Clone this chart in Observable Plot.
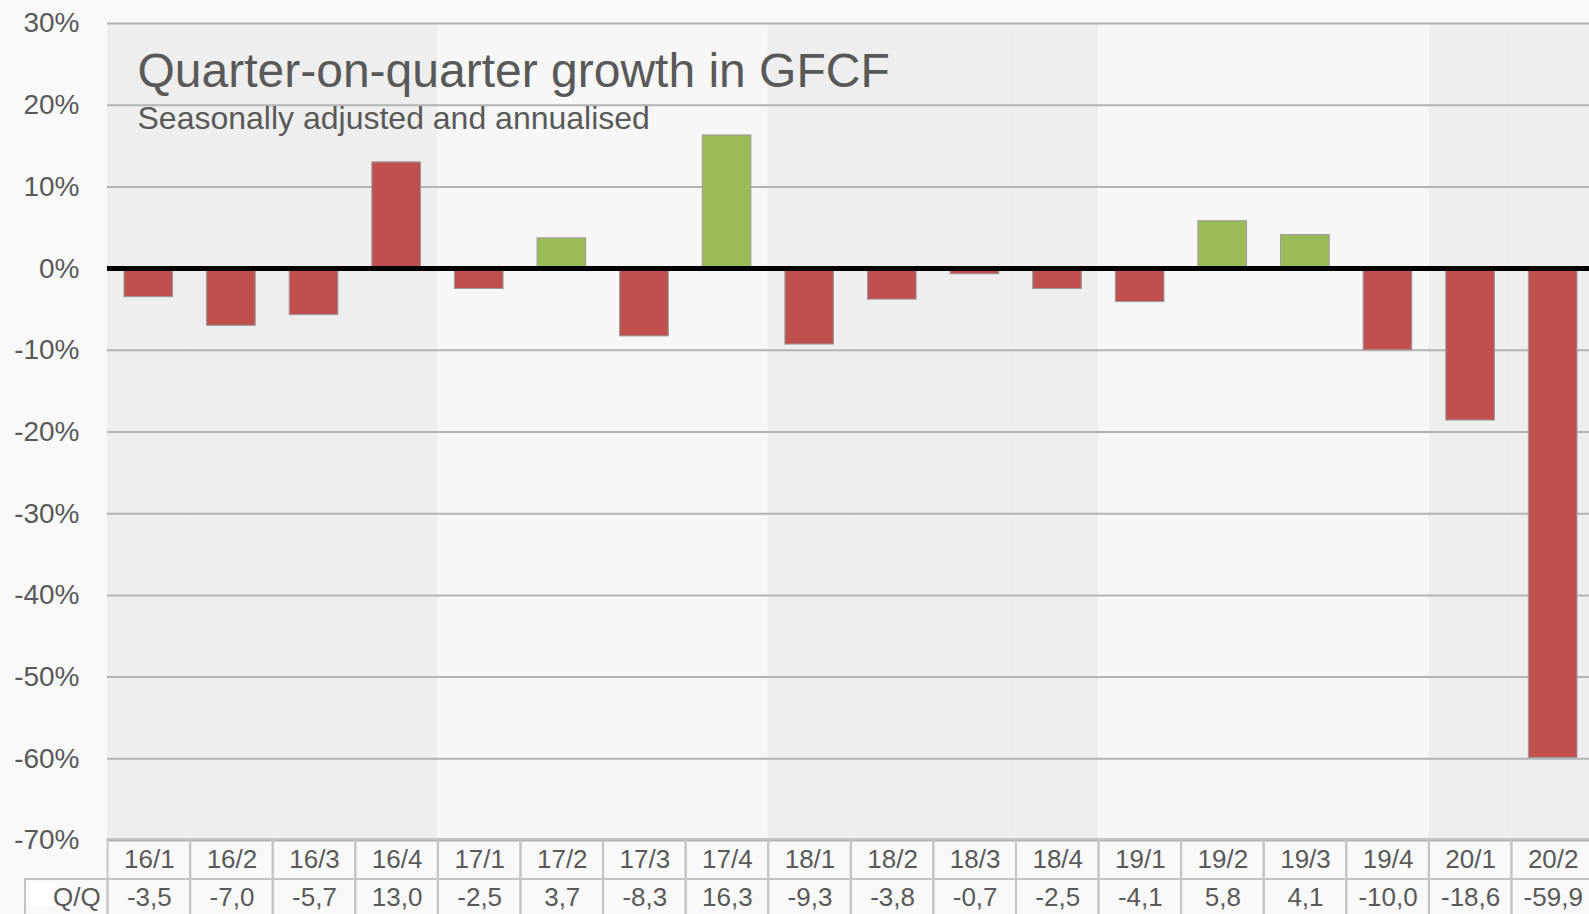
<!DOCTYPE html>
<html><head><meta charset="utf-8">
<script src="https://cdn.jsdelivr.net/npm/d3@7"></script>
<script src="https://cdn.jsdelivr.net/npm/@observablehq/plot@0.6"></script>
<style>
html,body{margin:0;padding:0;background:#f9f9f9;overflow:hidden;width:1589px;height:914px}
#wrap{position:relative;width:1589px;height:914px;overflow:hidden}
#wrap svg{position:absolute;left:0;overflow:visible;max-width:none !important}
</style></head><body><div id="wrap"></div>
<script>
const quarters = ["16/1","16/2","16/3","16/4","17/1","17/2","17/3","17/4","18/1","18/2","18/3","18/4","19/1","19/2","19/3","19/4","20/1","20/2"];
const qoq = [-3.5,-7.0,-5.7,13.0,-2.5,3.7,-8.3,16.3,-9.3,-3.8,-0.7,-2.5,-4.1,5.8,4.1,-10.0,-18.6,-59.9];
const greenQuarters = ["17/2","17/4","19/2","19/3"];
const yTicks = [30,20,10,0,-10,-20,-30,-40,-50,-60,-70];
const titleText = "Quarter-on-quarter growth in GFCF";
const subtitleText = "Seasonally adjusted and annualised";
const rowLabel = "Q/Q";

const data = quarters.map((q, i) => ({
  quarter: q,
  value: qoq[i],
  band: (+q.slice(0, 2)) % 2 === 0 ? "even" : "odd",
  kind: greenQuarters.includes(q) ? "up" : "down"
}));

const FONT = "'Liberation Sans', Arial, sans-serif";
const TEXT = "#595959";
const W = 1594;

const chart = Plot.plot({
  width: W, height: 840,
  marginTop: 23, marginBottom: 0, marginLeft: 107, marginRight: 0,
  style: {background: "transparent", fontFamily: FONT, overflow: "visible", maxWidth: "none"},
  x: {domain: quarters, padding: 0, round: false, axis: null},
  y: {domain: [-70, 30], label: null, axis: null},
  color: {domain: ["even", "odd", "up", "down"], range: ["#eeeeee", "#f7f7f7", "#9bbb59", "#c0504d"]},
  marks: [
    Plot.cell(data, {x: "quarter", fill: "band"}),
    Plot.gridY(yTicks, {stroke: "#b3b3b3", strokeOpacity: 1, strokeWidth: 2}),
    Plot.axisY(yTicks, {tickSize: 0, tickPadding: 28, fontSize: 28, fill: TEXT, tickFormat: d => d + "%", label: null}),
    Plot.barY(data, {x: "quarter", y: "value", fill: "kind", insetLeft: 17, insetRight: 17, stroke: "#9a9a9a", strokeWidth: 1}),
    Plot.ruleY([0], {stroke: "#000", strokeWidth: 5}),
    Plot.text([titleText], {frameAnchor: "top-left", text: d => d, textAnchor: "start", lineAnchor: "bottom", dx: 30, dy: 63, fontSize: 48, fill: TEXT}),
    Plot.text([subtitleText], {frameAnchor: "top-left", text: d => d, textAnchor: "start", lineAnchor: "bottom", dx: 30, dy: 105, fontSize: 32, fill: TEXT})
  ]
});
chart.style.top = "0px";

const tableCols = [rowLabel, ...quarters];
const table = Plot.plot({
  width: W, height: 80,
  marginTop: 0, marginBottom: 0, marginLeft: 25, marginRight: 0,
  style: {background: "transparent", fontFamily: FONT, overflow: "visible", maxWidth: "none"},
  x: {domain: tableCols, padding: 0, round: false, axis: null},
  y: {domain: ["period", "qoq"], padding: 0, round: false, axis: null},
  marks: [
    Plot.cell(quarters, {x: d => d, y: () => "period", fill: "none", stroke: "#c4c4c4", strokeWidth: 2}),
    Plot.cell(tableCols, {x: d => d, y: () => "qoq", fill: "none", stroke: "#c4c4c4", strokeWidth: 2}),
    Plot.dot([rowLabel], {x: d => d, y: () => "qoq", symbol: "square", r: 13.5, fill: "#ffffff", stroke: "none", dx: -24, dy: -6}),
    Plot.text(quarters, {x: d => d, y: () => "period", text: d => d, fontSize: 26, fill: TEXT}),
    Plot.text(data, {x: "quarter", y: () => "qoq", text: d => d.value.toFixed(1).replace(".", ","), fontSize: 26, fill: TEXT, dy: -2}),
    Plot.text([rowLabel], {x: d => d, y: () => "qoq", text: d => d, textAnchor: "end", dx: 34, dy: -2, fontSize: 26, fill: TEXT})
  ]
});
table.style.top = "839px";

const wrap = document.getElementById("wrap");
wrap.appendChild(chart);
wrap.appendChild(table);
</script></body></html>
